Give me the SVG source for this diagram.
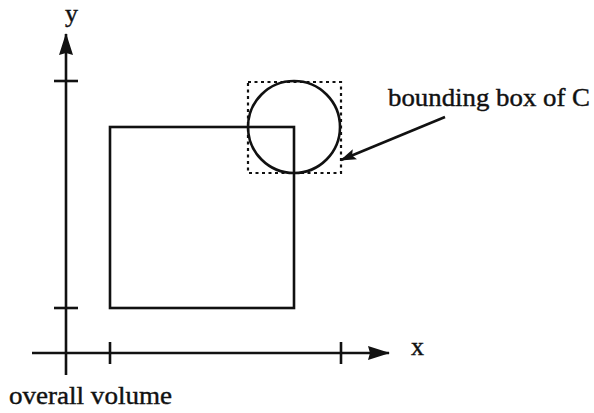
<svg xmlns="http://www.w3.org/2000/svg" width="594" height="413" viewBox="0 0 594 413">
<defs>
<marker id="ah" markerWidth="16" markerHeight="11" refX="15" refY="5.5" orient="auto" markerUnits="userSpaceOnUse">
<path d="M0,0 L16,5.5 L0,11 L3,5.5 Z" fill="#111"/>
</marker>
<marker id="ahBig" markerWidth="22" markerHeight="14" refX="21" refY="7" orient="auto" markerUnits="userSpaceOnUse">
<path d="M0,0 L22,7 L0,14 L2,7 Z" fill="#111"/>
</marker>
</defs>
<style>
.ln{stroke:#111;stroke-width:2.6;fill:none}
.dot{stroke:#111;stroke-width:2.2;fill:none;stroke-dasharray:3,3.5}
.t{font-family:"Liberation Serif",serif;fill:#111;stroke:#111;stroke-width:0.4}
</style>
<rect width="594" height="413" fill="#fff"/>
<g id="connectors">
<line class="ln" x1="66" y1="375" x2="66" y2="34" marker-end="url(#ahBig)"/>
<line class="ln" x1="32" y1="353" x2="389" y2="353" marker-end="url(#ahBig)"/>
<line class="ln" x1="54" y1="81" x2="78" y2="81"/>
<line class="ln" x1="54" y1="308" x2="78" y2="308"/>
<line class="ln" x1="110" y1="342" x2="110" y2="364"/>
<line class="ln" x1="341" y1="342" x2="341" y2="364"/>
<line class="ln" x1="445" y1="117" x2="341" y2="160" marker-end="url(#ah)"/>
</g>
<g id="y-label"><text class="t" x="65" y="22" font-size="26">y</text></g>
<g id="x-label"><text class="t" x="411" y="355" font-size="26">x</text></g>
<g id="square"><rect class="ln" x="110" y="127" width="184" height="181"/></g>
<g id="bbox"><rect class="dot" x="248" y="82" width="93" height="91"/></g>
<g id="circle"><circle class="ln" cx="294" cy="127" r="46"/></g>
<g id="bbox-label"><text class="t" x="388" y="106" font-size="25" textLength="202" lengthAdjust="spacingAndGlyphs">bounding box of C</text></g>
<g id="volume-label"><text class="t" x="9" y="404" font-size="25" textLength="163" lengthAdjust="spacingAndGlyphs">overall volume</text></g>
</svg>
